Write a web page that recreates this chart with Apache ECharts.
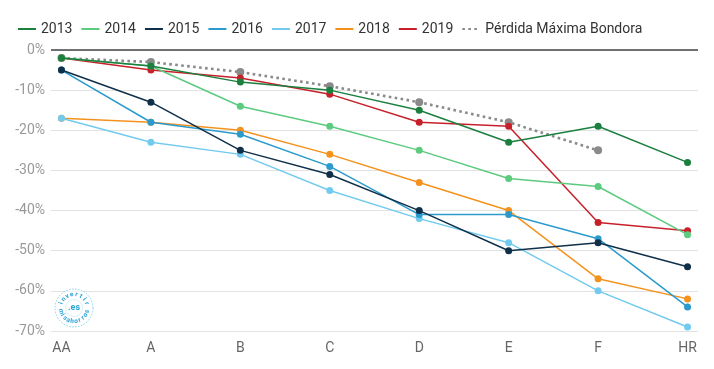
<!DOCTYPE html>
<html>
<head>
<meta charset="utf-8">
<script src="https://cdn.jsdelivr.net/npm/echarts@6/dist/echarts.min.js"></script>
<style>html,body{margin:0;padding:0;background:#fff;}#c{width:714px;height:369px;}</style>
</head>
<body>
<div id="c"></div>
<script>
const categories = ['AA', 'A', 'B', 'C', 'D', 'E', 'F', 'HR'];
const s2013 = [-2, -4, -8, -10, -15, -23, -19, -28];
const s2014 = [-2, -4, -14, -19, -25, -32, -34, -46];
const s2015 = [-5, -13, -25, -31, -40, -50, -48, -54];
const s2016 = [-5, -18, -21, -29, -41, -41, -47, -64];
const s2017 = [-17, -23, -26, -35, -42, -48, -60, -69];
const s2018 = [-17, -18, -20, -26, -33, -40, -57, -62];
const s2019 = [-2, -5, -7, -11, -18, -19, -43, -45];
const bondora = [-2, -3, -5.5, -9, -13, -18, -25, null];
const yMin = -70, yMax = 0, yStep = 10;

const seriesDefs = [
  {name: '2013', data: s2013, color: '#1b7f3e'},
  {name: '2014', data: s2014, color: '#5ccb7f'},
  {name: '2015', data: s2015, color: '#10304a'},
  {name: '2016', data: s2016, color: '#2a9bcc'},
  {name: '2017', data: s2017, color: '#72cbef'},
  {name: '2018', data: s2018, color: '#f5921e'},
  {name: '2019', data: s2019, color: '#c8202a'}
];

const toPairs = arr => arr.map((v, i) => [i, v]);

const series = [];
seriesDefs.forEach((d, i) => {
  series.push({
    name: d.name,
    type: 'line',
    data: toPairs(d.data),
    symbol: 'circle',
    symbolSize: 7,
    showSymbol: true,
    z: 20 - i,
    lineStyle: {width: 1.5, color: d.color},
    itemStyle: {color: d.color},
    emphasis: {disabled: true}
  });
});
series.push({
  name: 'Pérdida Máxima Bondora',
  type: 'line',
  data: toPairs(bondora),
  symbol: 'circle',
  symbolSize: 8,
  z: 5,
  lineStyle: {width: 2.6, color: '#8a8a8a', type: [2.6, 3.4]},
  itemStyle: {color: '#8a8a8a'},
  emphasis: {disabled: true},
  markLine: {
    silent: true,
    symbol: 'none',
    label: {show: false},
    lineStyle: {color: '#444', width: 1.5, type: 'solid'},
    data: [{yAxis: 0}]
  }
});

// logo graphic
const cx = 74, cy = 308;
const logo = [];
logo.push({type: 'circle', shape: {cx: cx, cy: cy, r: 19}, style: {fill: 'rgba(255,255,255,0.6)', stroke: '#7fd3ef', lineWidth: 1, lineDash: [1.5, 1.5]}, z: 100});
logo.push({type: 'circle', shape: {cx: cx, cy: cy, r: 8.5}, style: {fill: 'none', stroke: '#bfe8f6', lineWidth: 0.6}, z: 100});
logo.push({type: 'text', x: cx, y: cy, style: {text: '.es', fill: '#2aa4d6', font: 'bold 9px Roboto', align: 'center', verticalAlign: 'middle'}, z: 101});
const topTxt = 'invertir';
const botTxt = 'misahorros';
const rT = 13.5;
for (let i = 0; i < topTxt.length; i++) {
  const th = Math.PI * (200 + i * (140 / (topTxt.length - 1))) / 180;
  logo.push({type: 'text', x: cx + rT * Math.cos(th), y: cy + rT * Math.sin(th), rotation: 1.5 * Math.PI - th,
    style: {text: topTxt[i], fill: '#2aa4d6', font: 'bold 6.5px Roboto', align: 'center', verticalAlign: 'middle'}, z: 101});
}
for (let i = 0; i < botTxt.length; i++) {
  const th = Math.PI * (165 - i * (150 / (botTxt.length - 1))) / 180;
  logo.push({type: 'text', x: cx + rT * Math.cos(th), y: cy + rT * Math.sin(th), rotation: 0.5 * Math.PI - th,
    style: {text: botTxt[i], fill: '#2aa4d6', font: 'bold 6.5px Roboto', align: 'center', verticalAlign: 'middle'}, z: 101});
}

const chart = echarts.init(document.getElementById('c'), null, {renderer: 'canvas'});
chart.setOption({
  animation: false,
  backgroundColor: '#fff',
  textStyle: {fontFamily: 'Roboto'},
  legend: {
    left: 12,
    top: 17,
    itemWidth: 18,
    itemHeight: 14,
    itemGap: 8,
    itemStyle: {opacity: 0},
    textStyle: {fontSize: 14, color: '#333', fontFamily: 'Roboto'},
    data: seriesDefs.map(d => d.name).concat(['Pérdida Máxima Bondora'])
  },
  grid: {left: 51, right: 16, top: 50, bottom: 38, containLabel: false},
  xAxis: {
    type: 'value',
    min: -0.117,
    max: 7.117,
    axisLine: {show: false},
    axisTick: {show: false},
    splitLine: {show: false},
    axisLabel: {
      customValues: categories.map((c, i) => i),
      formatter: v => categories[Math.round(v)],
      fontSize: 14,
      color: '#666',
      margin: 10
    }
  },
  yAxis: {
    type: 'value',
    min: yMin,
    max: yMax,
    interval: yStep,
    axisLine: {show: false},
    axisTick: {show: false},
    splitLine: {lineStyle: {color: '#e2e2e2', width: 1.2}},
    axisLabel: {formatter: '{value}%', fontSize: 14, color: '#999', margin: 6}
  },
  graphic: logo,
  series: series
});
</script>
</body>
</html>
